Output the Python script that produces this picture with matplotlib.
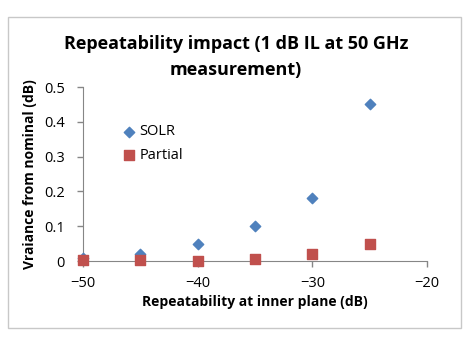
import matplotlib.pyplot as plt
from matplotlib.patches import Rectangle

plt.rcParams['font.family'] = ['Open Sans', 'DejaVu Sans']

x_vals = [-50, -45, -40, -35, -30, -25]
solr = [0.01, 0.02, 0.05, 0.1, 0.18, 0.45]
partial = [0.002, 0.002, 0.001, 0.005, 0.02, 0.05]
x_ticks = [-50, -40, -30, -20]
y_ticks = [0, 0.1, 0.2, 0.3, 0.4, 0.5]
y_labels = ['0', '0.1', '0.2', '0.3', '0.4', '0.5']

fig = plt.figure(figsize=(4.7, 3.38), dpi=100)
ax = fig.add_axes([0.1766, 0.2278, 0.7319, 0.5148])

# chart border like the spreadsheet frame
fig.patches.append(Rectangle((8 / 470, 1 - 328 / 338), 453 / 470, 311 / 338,
                             transform=fig.transFigure, fill=False,
                             edgecolor='#c8c8c8', linewidth=1))

ax.scatter(x_vals, solr, marker='D', s=28, color='#4F81BD', label='SOLR', zorder=3, clip_on=False)
ax.scatter(x_vals, partial, marker='s', s=55, color='#C0504D', label='Partial', zorder=3, clip_on=False)

ax.set_xlim(-50, -20)
ax.set_ylim(0, 0.5)
ax.set_xticks(x_ticks)
ax.set_yticks(y_ticks)
ax.set_yticklabels(y_labels)
ax.tick_params(labelsize=10.5, color='#868686', length=4, width=1)
ax.tick_params(axis='y', pad=9)
ax.tick_params(axis='x', pad=7)
for s in ['top', 'right']:
    ax.spines[s].set_visible(False)
for s in ['left', 'bottom']:
    ax.spines[s].set_color('#868686')

ax.set_xlabel('Repeatability at inner plane (dB)', fontsize=10, fontweight='bold', labelpad=3)
ax.set_ylabel('Vraiance from nominal (dB)', fontsize=10, fontweight='bold', labelpad=5)
fig.text(0.502, 0.896, 'Repeatability impact (1 dB IL at 50 GHz\nmeasurement)',
         ha='center', va='top', fontsize=13, fontweight='bold', linespacing=1.55)

ax.legend(loc='upper left', bbox_to_anchor=(0.07, 0.86), frameon=False, fontsize=10.5,
          handletextpad=0.1, labelspacing=0.6, handlelength=1.2)

fig.savefig('out.png', dpi=100)
